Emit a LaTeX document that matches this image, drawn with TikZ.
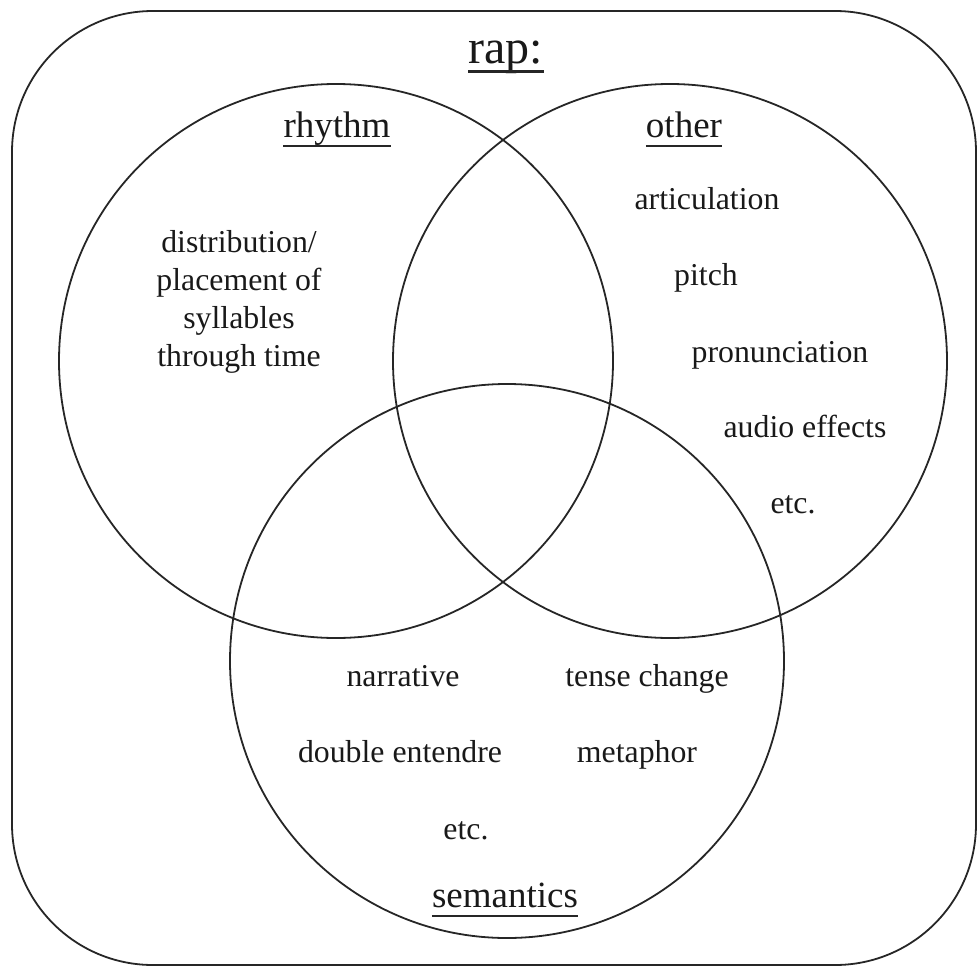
\documentclass[tikz,border=0pt]{standalone}
\usepackage{fontspec}
\setmainfont{Liberation Serif}
\begin{document}
\begin{tikzpicture}[x=1pt,y=-1pt,
  ring/.style={draw=black!85,line width=1.8pt},
  frame/.style={draw=black!85,line width=1.8pt,rounded corners=141pt},
  body/.style={inner sep=0pt,anchor=base,align=center,
    font=\fontsize{31.8}{38}\selectfont,text=black!90},
  head/.style={inner sep=0pt,anchor=base,
    font=\fontsize{37}{44}\selectfont,text=black!90},
  title/.style={inner sep=0pt,anchor=base,
    font=\fontsize{48}{56}\selectfont,text=black!90},
  uline/.style={draw=black!85,line width=2.6pt}]
\useasboundingbox (0,0) rectangle (980,969);

% outer frame
\draw[frame] (12,11) rectangle (976,965);

% the three sets
\draw[ring] (336,361) circle[radius=277];
\draw[ring] (670,361) circle[radius=277];
\draw[ring] (507,661) circle[radius=277];

% headings, underlined
\node[title] (rap) at (506,63) {rap:};
\draw[uline,line width=3pt] ([yshift=-8pt]rap.base west) -- ([yshift=-8pt]rap.base east);
\node[head] (rhythm) at (337,137) {rhythm};
\draw[uline] ([yshift=-9pt]rhythm.base west) -- ([yshift=-9pt]rhythm.base east);
\node[head] (other) at (684,137) {other};
\draw[uline] ([yshift=-9pt]other.base west) -- ([yshift=-9pt]other.base east);
\node[head] (semantics) at (505,907) {semantics};
\draw[uline] ([yshift=-9pt]semantics.base west) -- ([yshift=-9pt]semantics.base east);

% rhythm (base anchor sits on the last line)
\node[body] (dist) at (239,366) {distribution/\\placement of\\syllables\\through time};

% other
\node[body] (artic) at (707,209) {articulation};
\node[body] (pitch) at (706,285) {pitch};
\node[body] (pron) at (780,362) {pronunciation};
\node[body] (audio) at (805,437) {audio effects};
\node[body] (etcA) at (793,513) {etc.};

% semantics
\node[body] (narr) at (403,686) {narrative};
\node[body] (tense) at (647,686) {tense change};
\node[body] (double) at (400,762) {double entendre};
\node[body] (meta) at (637,762) {metaphor};
\node[body] (etcB) at (466,839) {etc.};
\end{tikzpicture}
\end{document}
